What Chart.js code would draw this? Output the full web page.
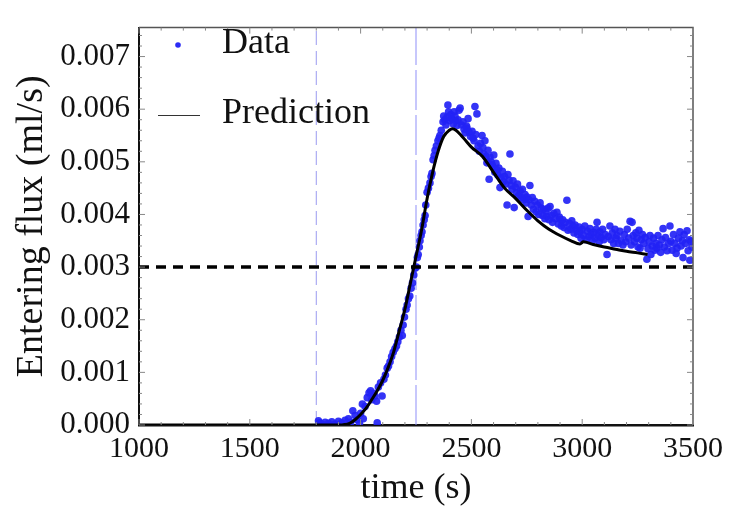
<!DOCTYPE html>
<html>
<head>
<meta charset="utf-8">
<script src="https://cdn.jsdelivr.net/npm/chart.js@4"></script>
<style>
  body { margin: 0; background: #fff; }
  #wrap { width: 729px; height: 518px; }
</style>
</head>
<body>
<div id="wrap"><canvas id="chart" width="729" height="518"></canvas></div>
<script>
// measured points (time s, flux ml/s)
const dataTime = [
  1810, 1815, 1825, 1840, 1855, 1870, 1885, 1900, 1915, 1930, 1945, 1955, 1965, 1975, 1985, 1995,
  2000, 2008, 2012, 2020, 2030, 2038, 2045, 2050, 2058, 2065, 2072, 2075, 2080, 2090, 2097,
  2105, 2112, 2120, 2126, 2133, 2140, 2147, 2155, 2162, 2168, 2175, 2182, 2188, 2192, 2198,
  2205, 2210, 2216, 2222, 2228, 2234, 2240, 2246, 2252, 2256, 2260, 2265, 2268, 2273, 2277,
  2282, 2287, 2291, 2294, 2300, 2306, 2313, 2318, 2322, 2327, 2332, 2336, 2342, 2349, 2354,
  2358, 2364, 2372, 2375, 2380, 2385, 2390, 2394, 2397, 2402, 2407, 2412, 2418, 2422, 2426,
  2430, 2435, 2440, 2444, 2449, 2455, 2462, 2467, 2472, 2478, 2480, 2485, 2490, 2496, 2503,
  2507, 2512, 2516, 2520, 2525, 2530, 2536, 2541, 2548, 2552, 2556, 2561, 2566, 2570, 2575,
  2580, 2584, 2589, 2593, 2597, 2601, 2606, 2611, 2615, 2619, 2624, 2629, 2634, 2640, 2645,
  2650, 2655, 2661, 2665, 2670, 2674, 2679, 2684, 2688, 2693, 2698, 2703, 2708, 2713, 2720,
  2725, 2730, 2736, 2742, 2747, 2751, 2756, 2760, 2764, 2770, 2775, 2780, 2786, 2792, 2798,
  2804, 2810, 2815, 2820, 2826, 2832, 2836, 2841, 2846, 2850, 2855, 2860, 2866, 2872, 2878,
  2886, 2892, 2897, 2900, 2906, 2912, 2918, 2924, 2931, 2936, 2942, 2948, 2953, 2958, 2963,
  2968, 2974, 2980, 2986, 2990, 2995, 3000, 3006, 3012, 3018, 3024, 3030, 3035, 3040, 3046,
  3052, 3058, 3063, 3067, 3072, 3077, 3080, 3086, 3092, 3098, 3104, 3112, 3118, 3125, 3130,
  3136, 3142, 3148, 3152, 3157, 3163, 3170, 3176, 3184, 3190, 3196, 3203, 3210, 3216, 3221,
  3225, 3230, 3236, 3242, 3247, 3252, 3256, 3261, 3266, 3272, 3278, 3284, 3292, 3297, 3302,
  3306, 3310, 3316, 3322, 3328, 3333, 3337, 3342, 3348, 3354, 3360, 3365, 3370, 3376, 3383,
  3390, 3396, 3400, 3406, 3412, 3418, 3424, 3428, 3434, 3441, 3446, 3452, 3455, 3460, 3466,
  3473, 3478, 3483, 3486, 3490, 3495
];
const dataFlux = [
  0.00008, 0.00004, 0.00002, 0.00005, 0.00003, 0.00006, 0.00002, 0.00007, 0.00004, 0.00009, 0.00012, 0.00005, 0.00027, 0.00018, 0.0001, 0.00003,
  0.00022, 0.0004, 0.00012, 0.00035, 0.00052, 0.00061, 0.00065, 0.00048, 0.0006, 0.00055, 0.00045, 0.00004, 0.00072, 0.0008, 0.00055,
  0.00087, 0.00095, 0.00108, 0.00112, 0.0012, 0.0013, 0.00138, 0.00145, 0.0015, 0.00158, 0.00167, 0.0018, 0.0017, 0.0019, 0.00205,
  0.0022, 0.00228, 0.0024, 0.00245, 0.0026, 0.0027, 0.00285, 0.00298, 0.003, 0.00318, 0.00324, 0.00338, 0.0035, 0.0036, 0.00367,
  0.0038, 0.0039, 0.00398, 0.00418, 0.00442, 0.0045, 0.0046, 0.00472, 0.00478, 0.00504, 0.00512, 0.00522, 0.0053, 0.0054, 0.00545,
  0.0055, 0.0056, 0.00576, 0.00587, 0.0058, 0.0057, 0.00585, 0.00608, 0.00595, 0.00578, 0.0059, 0.00582, 0.00572, 0.00595, 0.00587,
  0.00578, 0.00569, 0.0058, 0.00598, 0.00602, 0.0057, 0.00576, 0.00562, 0.00555, 0.00568, 0.00564, 0.00582, 0.00556, 0.00548, 0.00558,
  0.00545, 0.0054, 0.00605, 0.00552, 0.00591, 0.0053, 0.0052, 0.00535, 0.0055, 0.00527, 0.00515, 0.0054, 0.0051, 0.00498, 0.00522,
  0.00467, 0.00509, 0.005, 0.00495, 0.00491, 0.00513, 0.0048, 0.00497, 0.00485, 0.00475, 0.00488, 0.00451, 0.0047, 0.00482, 0.00462,
  0.00472, 0.00458, 0.00418, 0.00476, 0.00465, 0.00515, 0.00455, 0.00448, 0.00464, 0.00413, 0.00452, 0.00441, 0.00458, 0.00436, 0.00445,
  0.00432, 0.00448, 0.00428, 0.00438, 0.00422, 0.00433, 0.00396, 0.00428, 0.00455, 0.00418, 0.00432, 0.0041, 0.00425, 0.00405, 0.00418,
  0.004, 0.00422, 0.00412, 0.00398, 0.0041, 0.00392, 0.00405, 0.00396, 0.00412, 0.0039, 0.00415, 0.00398, 0.00385, 0.00402, 0.00392,
  0.00404, 0.00382, 0.00395, 0.00391, 0.00378, 0.0039, 0.00375, 0.00385, 0.00427, 0.0037, 0.00383, 0.00372, 0.00388, 0.00378, 0.00365,
  0.0038, 0.0037, 0.00362, 0.00376, 0.00367, 0.00355, 0.00372, 0.0036, 0.00378, 0.00352, 0.00368, 0.00358, 0.00373, 0.00362, 0.0035,
  0.00366, 0.00355, 0.00372, 0.00385, 0.0036, 0.00348, 0.00367, 0.00356, 0.00372, 0.00352, 0.00362, 0.00324, 0.00358, 0.00378, 0.00352,
  0.00365, 0.00345, 0.00372, 0.00355, 0.0036, 0.00345, 0.00368, 0.0035, 0.00342, 0.00362, 0.00348, 0.00372, 0.00355, 0.00387, 0.00342,
  0.00385, 0.0036, 0.00348, 0.00365, 0.00355, 0.00338, 0.0037, 0.00336, 0.00352, 0.00362, 0.00345, 0.00356, 0.00315, 0.00335, 0.00348,
  0.0036, 0.00324, 0.0034, 0.00355, 0.00332, 0.00345, 0.00336, 0.0036, 0.00342, 0.00328, 0.00352, 0.00373, 0.00338, 0.00356, 0.00331,
  0.00345, 0.00378, 0.00349, 0.00332, 0.00362, 0.00345, 0.00326, 0.00336, 0.00355, 0.00367, 0.0034, 0.0035, 0.00318, 0.00362, 0.00345,
  0.00369, 0.00331, 0.00352, 0.00313, 0.00349, 0.00338
];

// model curve
const predTime = [1000, 1900, 1950, 1975, 2000, 2025, 2050, 2075, 2100, 2125, 2150, 2175, 2200, 2225, 2250, 2275,
  2300, 2325, 2350, 2375, 2400, 2415, 2430, 2450, 2475, 2500, 2550, 2600, 2650, 2700, 2750, 2800, 2850, 2900,
  2950, 2990, 3005, 3050, 3100, 3150, 3200, 3250, 3295];
const predFlux = [0, 0, 0.00003, 0.0001, 0.0002, 0.00032, 0.00048, 0.00065, 0.00085, 0.0011, 0.0014, 0.0018, 0.0022, 0.0027, 0.0032, 0.0037,
  0.0043, 0.0048, 0.0052, 0.00548, 0.0056, 0.00563, 0.0056, 0.00552, 0.0054, 0.00528, 0.0051, 0.0048, 0.0045, 0.0043, 0.00408, 0.00388, 0.00372, 0.0036,
  0.0035, 0.00344, 0.00348, 0.00343, 0.00338, 0.00334, 0.0033, 0.00327, 0.00324];

const threshold = 0.003;
const markerTimes = [1800, 2250];

const xTicks = [1000, 1500, 2000, 2500, 3000, 3500];
const yTicks = [0, 0.001, 0.002, 0.003, 0.004, 0.005, 0.006, 0.007];
const xMin = 1000, xMax = 3500, yMin = 0, yMax = 0.00755;

const serif = "'Liberation Serif', 'Times New Roman', serif";

// frame, inward ticks and legend
const framePlugin = {
  id: 'frame',
  afterDatasetsDraw(chart) {
    const { ctx, chartArea: a, scales } = chart;
    ctx.save();
    ctx.strokeStyle = '#555';
    ctx.lineWidth = 1.5;
    ctx.beginPath();
    ctx.moveTo(a.left, a.top); ctx.lineTo(a.right, a.top); ctx.lineTo(a.right, a.bottom);
    ctx.stroke();

    ctx.strokeStyle = '#888';
    ctx.lineWidth = 1;
    ctx.beginPath();
    for (let v = xMin; v <= xMax; v += 100) {
      const px = scales.x.getPixelForValue(v);
      const len = v % 500 === 0 ? 6 : 3;
      ctx.moveTo(px, a.top); ctx.lineTo(px, a.top + len);
      ctx.moveTo(px, a.bottom); ctx.lineTo(px, a.bottom - len);
    }
    for (let i = 0; i <= 37; i++) {
      const v = i * 0.0002;
      const py = scales.y.getPixelForValue(v);
      const len = i % 5 === 0 ? 6 : 3;
      ctx.moveTo(a.left, py); ctx.lineTo(a.left + len, py);
      ctx.moveTo(a.right, py); ctx.lineTo(a.right - len, py);
    }
    ctx.stroke();

    // legend
    ctx.fillStyle = '#2b2bf5';
    ctx.beginPath();
    ctx.arc(178, 45, 2.8, 0, Math.PI * 2);
    ctx.fill();
    ctx.strokeStyle = '#333';
    ctx.lineWidth = 1;
    ctx.beginPath();
    ctx.moveTo(158, 115.5); ctx.lineTo(200, 115.5);
    ctx.stroke();
    ctx.fillStyle = '#111';
    ctx.font = '36px ' + serif;
    ctx.textBaseline = 'alphabetic';
    ctx.textAlign = 'left';
    ctx.fillText('Data', 222, 53);
    ctx.fillText('Prediction', 222, 123);
    ctx.restore();
  }
};

const ctx = document.getElementById('chart').getContext('2d');
new Chart(ctx, {
  type: 'scatter',
  data: {
    datasets: [
      {
        label: 'Prediction',
        data: predTime.map((t, i) => ({ x: t, y: predFlux[i] })),
        showLine: true,
        borderColor: '#000',
        borderWidth: 3,
        pointRadius: 0,
        cubicInterpolationMode: 'monotone'
      },
      {
        label: 'Threshold',
        data: [{ x: xMin, y: threshold }, { x: xMax, y: threshold }],
        showLine: true,
        borderColor: '#000',
        borderWidth: 3.5,
        borderDash: [10, 7],
        pointRadius: 0
      },
      {
        label: 'Data',
        data: dataTime.map((t, i) => ({ x: t, y: dataFlux[i] })),
        backgroundColor: 'rgba(35, 35, 245, 0.92)',
        borderWidth: 0,
        pointRadius: 3.8
      },
      {
        label: 'start',
        data: [{ x: markerTimes[0], y: yMin }, { x: markerTimes[0], y: yMax }],
        showLine: true,
        borderColor: '#9a9af0',
        borderWidth: 1,
        borderDash: [14, 6],
        pointRadius: 0
      },
      {
        label: 'cross',
        data: [{ x: markerTimes[1], y: yMin }, { x: markerTimes[1], y: yMax }],
        showLine: true,
        borderColor: '#8f8ff8',
        borderWidth: 1,
        borderDash: [40, 5],
        pointRadius: 0
      }
    ]
  },
  options: {
    responsive: false,
    animation: false,
    layout: { padding: { top: 10, right: 36, left: 0, bottom: 0 } },
    plugins: {
      legend: { display: false },
      tooltip: { enabled: false }
    },
    scales: {
      x: {
        type: 'linear',
        min: xMin,
        max: xMax,
        afterFit: s => { s.height = 93; },
        afterBuildTicks: s => { s.ticks = xTicks.map(v => ({ value: v })); },
        grid: { display: false, drawTicks: false },
        border: { display: true, color: '#111', width: 2.5 },
        ticks: {
          color: '#111',
          padding: 6,
          maxRotation: 0,
          font: { family: serif, size: 30 },
          callback: v => String(v)
        },
        title: {
          display: true,
          text: 'time (s)',
          color: '#111',
          font: { family: serif, size: 36 },
          padding: { top: 0, bottom: 8 }
        }
      },
      y: {
        type: 'linear',
        min: yMin,
        max: yMax,
        afterFit: s => { s.width = 139; },
        afterBuildTicks: s => { s.ticks = yTicks.map(v => ({ value: v })); },
        grid: { display: false, drawTicks: false },
        border: { display: true, color: '#111', width: 2 },
        ticks: {
          color: '#111',
          padding: 9,
          font: { family: serif, size: 31 },
          callback: v => v.toFixed(3)
        },
        title: {
          display: true,
          text: 'Entering flux (ml/s)',
          color: '#111',
          font: { family: serif, size: 38 },
          padding: { top: 9, bottom: 0 }
        }
      }
    }
  },
  plugins: [framePlugin]
});
</script>
</body>
</html>
